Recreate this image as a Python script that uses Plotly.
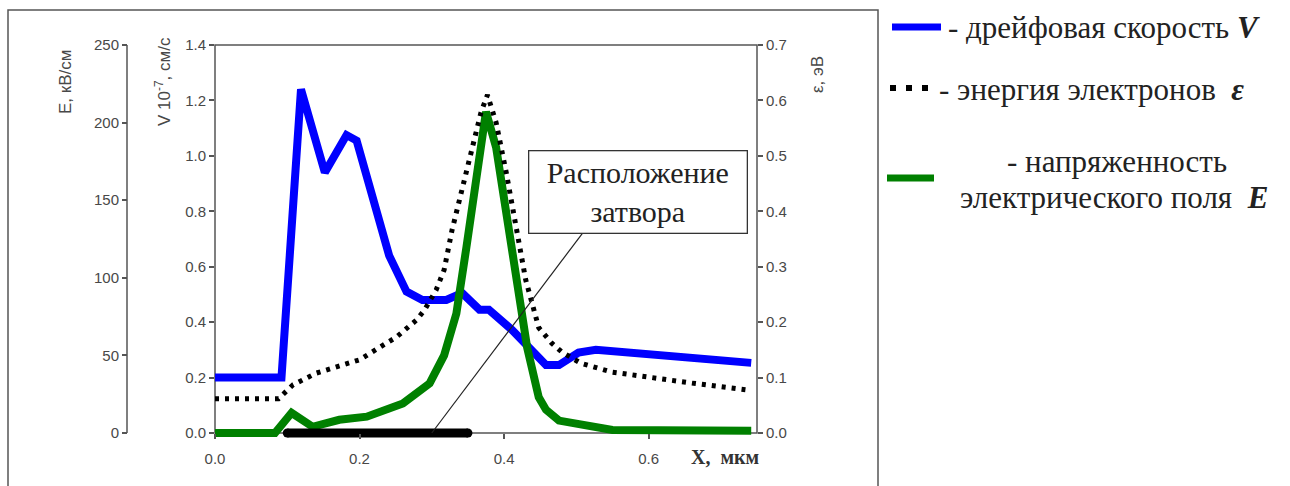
import plotly.graph_objects as go

# --- data -------------------------------------------------------------
# drift velocity V, 10^7 cm/s
x_v = [0, 0.092, 0.119, 0.152, 0.182, 0.196, 0.241, 0.265, 0.287, 0.32, 0.342,
       0.366, 0.379, 0.411, 0.458, 0.476, 0.503, 0.527, 0.742]
v_drift = [0.20, 0.20, 1.24, 0.94, 1.075, 1.055, 0.64, 0.51, 0.48, 0.48, 0.505,
           0.445, 0.445, 0.372, 0.245, 0.245, 0.29, 0.30, 0.253]

# electric field E, kV/cm
x_e = [0, 0.083, 0.106, 0.135, 0.172, 0.21, 0.26, 0.297, 0.317, 0.334, 0.348,
       0.361, 0.37, 0.375, 0.389, 0.403, 0.417, 0.432, 0.448, 0.458, 0.476,
       0.517, 0.55, 0.742]
e_field = [0, 0, 13, 4, 8.5, 10.5, 19, 32, 50, 77, 120,
           158, 189, 207, 184, 142, 99, 55, 23, 15, 8,
           4, 2, 1.5]

# electron energy eps, eV
x_eps = [0, 0.088, 0.108, 0.14, 0.177, 0.2, 0.237, 0.251, 0.279, 0.29, 0.306,
         0.317, 0.328, 0.342, 0.356, 0.368, 0.377, 0.389, 0.403, 0.417, 0.43,
         0.448, 0.466, 0.48, 0.506, 0.549, 0.604, 0.66, 0.734]
eps_energy = [0.062, 0.062, 0.087, 0.108, 0.123, 0.132, 0.162, 0.173, 0.204, 0.222, 0.258,
              0.294, 0.366, 0.439, 0.516, 0.578, 0.61, 0.56, 0.47, 0.366, 0.276,
              0.19, 0.162, 0.146, 0.126, 0.11, 0.099, 0.09, 0.078]

# gate position along x, um
gate_x = [0.10, 0.35]
gate_y = [0, 0]

x_ticks = [0.0, 0.2, 0.4, 0.6]
v_ticks = [0.0, 0.2, 0.4, 0.6, 0.8, 1.0, 1.2, 1.4]
e_ticks = [0, 50, 100, 150, 200, 250]
eps_ticks = [0.0, 0.1, 0.2, 0.3, 0.4, 0.5, 0.6, 0.7]

V_MAX, E_MAX, EPS_MAX, X_MAX = 1.4, 250, 0.7, 0.75

BLUE = "#0000ff"
GREEN = "#008000"
AXIS = "#555555"
TICKFONT = dict(family="Liberation Sans", size=15, color="#484848")
TITLEFONT = dict(family="Liberation Sans", size=17, color="#484848")
SERIF = "Liberation Serif"

W, H = 1290, 486
# plot box in pixels
L, R, T, B = 215, 757, 45, 433
PAD = 6  # extra room below the zero line so thick lines at 0 are not clipped


def px(x):
    return x / W


def py(y):
    return 1 - y / H


def lower(top):
    # range minimum that keeps value 0 exactly on the bottom of the box
    return -top * PAD / (B - T)


fig = go.Figure()

fig.add_trace(go.Scatter(x=x_v, y=v_drift, mode="lines", yaxis="y",
                         line=dict(color=BLUE, width=8), showlegend=False))
fig.add_trace(go.Scatter(x=x_e, y=e_field, mode="lines", yaxis="y2",
                         line=dict(color=GREEN, width=8), showlegend=False))
fig.add_trace(go.Scatter(x=x_eps, y=eps_energy, mode="lines", yaxis="y3",
                         line=dict(color="black", width=5, dash="4px,6px"),
                         showlegend=False))
fig.add_trace(go.Scatter(x=gate_x, y=gate_y, mode="lines+markers", yaxis="y3",
                         line=dict(color="black", width=9),
                         marker=dict(color="black", size=9), cliponaxis=False,
                         showlegend=False))

ydom = [py(B + PAD), py(T)]
axis_common = dict(showgrid=False, zeroline=False, showline=False,
                   ticks="outside", ticklen=5, tickcolor=AXIS,
                   tickwidth=1.5, tickfont=TICKFONT, automargin=False)

fig.update_layout(
    width=W, height=H,
    margin=dict(l=0, r=0, t=0, b=0),
    paper_bgcolor="white", plot_bgcolor="rgba(0,0,0,0)",
    xaxis=dict(domain=[px(L), px(R)], range=[0, X_MAX], tickvals=x_ticks,
               ticktext=[f"{t:.1f}" for t in x_ticks], anchor="free",
               position=py(B), ticklabelstandoff=7, **axis_common),
    yaxis=dict(domain=ydom, range=[lower(V_MAX), V_MAX], tickvals=v_ticks,
               ticktext=[f"{t:.1f}" for t in v_ticks], **axis_common),
    yaxis2=dict(range=[lower(E_MAX), E_MAX], tickvals=e_ticks, overlaying="y",
                anchor="free", position=px(127), side="left", **axis_common),
    yaxis3=dict(range=[lower(EPS_MAX), EPS_MAX], tickvals=eps_ticks,
                ticktext=[f"{t:.1f}" for t in eps_ticks], overlaying="y",
                anchor="x", side="right", **axis_common),
)

# plot box and the free E axis line
fig.add_shape(type="rect", xref="paper", yref="paper",
              x0=px(L), x1=px(R), y0=py(B), y1=py(T),
              line=dict(color=AXIS, width=1.5), layer="below")
fig.add_shape(type="line", xref="paper", yref="paper",
              x0=px(127), x1=px(127), y0=py(B), y1=py(T),
              line=dict(color=AXIS, width=1.5))

# outer frame
fig.add_shape(type="rect", xref="paper", yref="paper",
              x0=px(8), x1=px(878), y0=py(10), y1=py(500),
              line=dict(color=AXIS, width=1.5), layer="below")

# axis titles
ann = []
ann.append(dict(x=px(65), y=py(82), text="E, кВ/см", textangle=-90, font=TITLEFONT))
ann.append(dict(x=px(163), y=py(82), text="V 10<sup>-7</sup>, см/с", textangle=-90,
                font=TITLEFONT))
ann.append(dict(x=px(817), y=py(75), text="ε, эВ", textangle=-90, font=TITLEFONT))
ann.append(dict(x=px(725), y=py(457), text="<b>X,  мкм</b>",
                font=dict(family=SERIF, size=20, color="#333333")))

# gate label box
ann.append(dict(x=px(638), y=py(192), text="Расположение<br>затвора",
                font=dict(family=SERIF, size=30, color="#222222"),
                bordercolor="#333333", borderwidth=1.3, borderpad=3,
                bgcolor="white", width=211, height=75))

# legend text
LEG = dict(family=SERIF, size=31, color="#222222")
ann.append(dict(x=px(946), y=py(27), xanchor="left",
                text="- дрейфовая скорость <b><i>V</i></b>", font=LEG))
ann.append(dict(x=px(937), y=py(90), xanchor="left",
                text="- энергия электронов  <b><i>ε</i></b>", font=LEG))
ann.append(dict(x=px(1117), y=py(161), text="- напряженность", font=LEG))
ann.append(dict(x=px(1114), y=py(197),
                text="электрического поля  <b><i>E</i></b>", font=LEG))

for a in ann:
    a.setdefault("xref", "paper")
    a.setdefault("yref", "paper")
    a.setdefault("xanchor", "center")
    a.setdefault("yanchor", "middle")
    a.setdefault("showarrow", False)
    fig.add_annotation(**a)

# pointer from the label box to the gate
fig.add_shape(type="line", xref="x", yref="y", x0=0.51, y0=0.726, x1=0.30, y1=0.0,
              line=dict(color="#222222", width=1.2), layer="above")

# legend swatches
fig.add_shape(type="line", xref="paper", yref="paper", x0=px(892), x1=px(941),
              y0=py(27), y1=py(27), line=dict(color=BLUE, width=7))
for cx in [890, 906, 922]:
    fig.add_shape(type="rect", xref="paper", yref="paper", x0=px(cx), x1=px(cx + 6),
                  y0=py(85), y1=py(91), fillcolor="black", line=dict(width=0))
fig.add_shape(type="line", xref="paper", yref="paper", x0=px(887), x1=px(934),
              y0=py(178), y1=py(178), line=dict(color=GREEN, width=7))

fig.write_html("out.html")
